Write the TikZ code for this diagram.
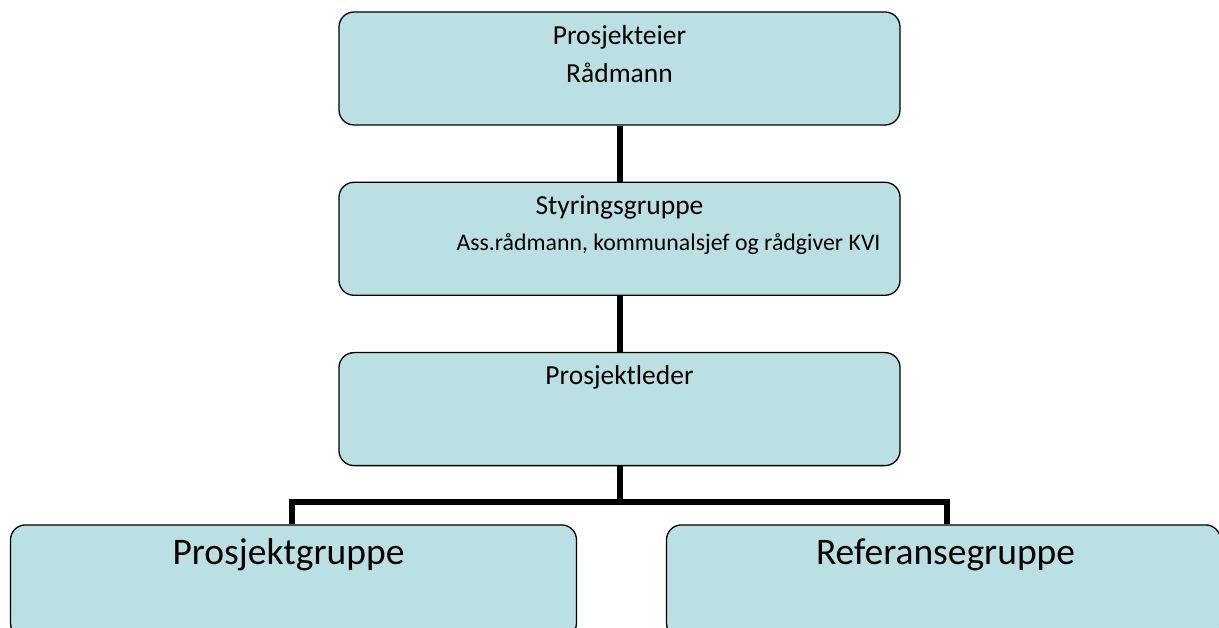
\documentclass[tikz,border=0pt]{standalone}
\usepackage{fontspec}
\setmainfont{Carlito}
\usetikzlibrary{positioning}
\definecolor{boxBlue}{RGB}{186,224,227}
\tikzset{
    every node/.style={inner sep=0pt}, % text sits exactly where it is put
    node distance=56pt, % gap between two boxes of the chart
}

\begin{document}
\begin{tikzpicture}[
                        styleBox/.style={draw, line width=1.3pt, fill=boxBlue, rounded corners=15pt,
                                         minimum width=561pt, minimum height=113pt},
                        styleLink/.style={line width=6pt},
                        styleText/.style={anchor=base, font=\fontsize{27.5}{33}\selectfont},
                        styleBig/.style={anchor=base, font=\fontsize{37.5}{45}\selectfont},
                    ]
                    \useasboundingbox (0pt,0pt) rectangle (1219pt,-628pt);
                    % boxes
                    \node[styleBox] (eier) at (619.5pt,-68.5pt) {};
                    \node[styleBox, below=of eier] (styring) {};
                    \node[styleBox, below=of styring] (leder) {};
                    \node[styleBox, below=58pt of leder, xshift=-326pt, minimum width=566pt] (pgruppe) {};
                    \node[styleBox, below=58pt of leder, xshift=324pt, minimum width=554pt] (rgruppe) {};
                    % texts
                    \node[styleText] (eierTxt) at ([yshift=-33pt]eier.north) {Prosjekteier};
                    \node[styleText] (eierSub) at ([yshift=-71pt]eier.north) {Rådmann};
                    \node[styleText] (styringTxt) at ([yshift=-33pt]styring.north) {Styringsgruppe};
                    \node[anchor=base, font=\fontsize{23.8}{29}\selectfont] (styringSub)
                        at ([xshift=49pt, yshift=-69pt]styring.north) {Ass.rådmann, kommunalsjef og rådgiver KVI};
                    \node[styleText] (lederTxt) at ([yshift=-33pt]leder.north) {Prosjektleder};
                    \node[styleBig] (pgruppeTxt) at ([xshift=-5pt, yshift=-40pt]pgruppe.north) {Prosjektgruppe};
                    \node[styleBig] (rgruppeTxt) at ([xshift=2pt, yshift=-40pt]rgruppe.north) {Referansegruppe};
                    % links
                    \coordinate (split) at ([yshift=-36pt]leder.south);
                    \draw[styleLink]
                    (eier) -- (styring)
                    (styring) -- (leder)
                    (leder.south) -- (split)
                    (split) -| ([xshift=-2pt]pgruppe.north)
                    (split) -| ([xshift=3pt]rgruppe.north);
                \end{tikzpicture}
\end{document}
